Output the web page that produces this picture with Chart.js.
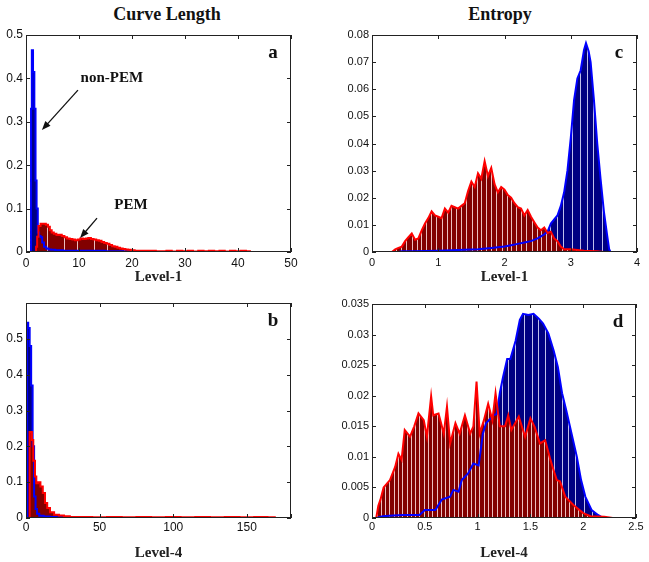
<!DOCTYPE html>
<html>
<head>
<meta charset="utf-8">
<script src="https://cdn.jsdelivr.net/npm/chart.js@4.4.1/dist/chart.umd.min.js"></script>
<style>
  body { margin: 0; background: #fff; }
  #wrap { position: relative; width: 649px; height: 562px; overflow: hidden; background: #fff; }
  #wrap canvas { position: absolute; }
  .head { position: absolute; top: 4px; width: 200px; text-align: center; line-height: 20px;
          font: bold 18px "Liberation Serif", "Times New Roman", serif; color: #111; }
</style>
</head>
<body>
<div id="wrap">
  <div class="head" style="left:67px">Curve Length</div>
  <div class="head" style="left:400px">Entropy</div>
  <canvas id="chartA" width="320" height="290" style="left:0;top:0"></canvas>
  <canvas id="chartC" width="329" height="290" style="left:320px;top:0"></canvas>
  <canvas id="chartB" width="320" height="272" style="left:0;top:290px"></canvas>
  <canvas id="chartD" width="329" height="272" style="left:320px;top:290px"></canvas>
</div>
<script>
// histogram outlines, [x, frequency]
const curveL1Pem = [[1.8,0],[2.0,0.012],[2.2,0.035],[2.5,0.06],[3.0,0.065],[3.5,0.065],[4.0,0.063],[4.3,0.058],[4.7,0.05],[5.0,0.045],
  [5.5,0.042],[6.0,0.039],[6.5,0.04],[7.0,0.037],[7.5,0.034],[8.0,0.031],[8.5,0.03],[9.0,0.029],[9.5,0.027],[10.0,0.029],
  [10.5,0.031],[11.0,0.03],[11.5,0.031],[12.0,0.032],[12.5,0.03],[13.0,0.029],[13.5,0.027],[14.0,0.026],[14.5,0.023],[15.0,0.021],
  [15.5,0.019],[16.0,0.016],[16.5,0.013],[17.0,0.012],[17.5,0.01],[18.0,0.008],[18.5,0.007],[19.0,0.006],[19.5,0.005],[20.0,0.004],
  [21,0.003],[22,0.003],[23,0.003],[24,0.003],[25,0.002],[26,0.002],[27,0.003],[28,0.001],[29,0.003],[30,0.002],
  [31,0.003],[32,0.001],[33,0.003],[34,0.002],[35,0.003],[36,0.002],[37,0.003],[38,0.001],[39,0.003],[40,0.002],
  [41,0.003],[42,0.002],[42.5,0]];
const curveL1NonPem = [[0.9,0],[1.0,0.33],[1.2,0.465],[1.45,0.415],[1.7,0.33],[1.9,0.165],[2.1,0.1],[2.35,0.045],[2.6,0.037],[2.9,0.034],
  [3.2,0.022],[3.6,0.012],[4.0,0.008],[4.5,0.006],[5,0.005],[6,0.004],[8,0.003],[10,0.003],[12,0.003],[14,0.003],
  [16,0.002],[18,0.002],[19.5,0.002],[20,0]];

const curveL4Pem = [[2.2,0],[2.7,0.24],[3.5,0.24],[4.5,0.218],[5.4,0.16],[6.8,0.116],[7.2,0.097],[9,0.1],[10.6,0.088],[12.2,0.07],
  [13.6,0.042],[15.2,0.028],[17.4,0.016],[20.8,0.009],[24,0.007],[27.6,0.005],[32,0.003],[40,0.003],[50,0.002],[60,0.003],
  [70,0.002],[80,0.003],[90,0.002],[100,0.003],[110,0.002],[120,0.003],[130,0.002],[140,0.003],[150,0.002],[160,0.003],
  [168,0.002],[170,0]];
const curveL4NonPem = [[0.5,0],[1,0.545],[2,0.53],[3,0.48],[4,0.37],[5,0.2],[6,0.06],[7,0.025],[8,0.012],[10,0.006],
  [14,0.004],[18,0.003],[22,0.002],[26,0.002],[30,0.001],[35,0]];

const entropyL1Pem = [[0.3,0],[0.35,0.001],[0.4,0.0015],[0.45,0.002],[0.5,0.004],[0.55,0.0055],[0.6,0.0068],[0.65,0.0045],[0.7,0.005],[0.75,0.008],
  [0.8,0.0105],[0.85,0.0125],[0.9,0.015],[0.95,0.0135],[1.0,0.013],[1.05,0.0125],[1.1,0.016],[1.15,0.0145],[1.2,0.017],[1.25,0.0165],
  [1.3,0.016],[1.35,0.017],[1.4,0.018],[1.45,0.0225],[1.5,0.026],[1.55,0.024],[1.6,0.029],[1.65,0.027],[1.7,0.0335],[1.75,0.028],
  [1.8,0.031],[1.85,0.025],[1.9,0.022],[1.95,0.024],[2.0,0.023],[2.05,0.021],[2.1,0.02],[2.15,0.018],[2.2,0.0165],[2.25,0.016],
  [2.3,0.0135],[2.35,0.0155],[2.4,0.013],[2.45,0.011],[2.5,0.009],[2.55,0.008],[2.6,0.009],[2.65,0.007],[2.7,0.0075],[2.75,0.005],
  [2.8,0.004],[2.85,0.002],[2.9,0.001],[3.0,0.001],[3.2,0.0005],[3.4,0.0003],[3.5,0]];
const entropyL1NonPem = [[0.4,0],[0.45,0.0003],[0.6,0.0003],[0.8,0.0004],[1.0,0.0005],[1.2,0.0006],[1.4,0.0008],[1.6,0.001],[1.8,0.0015],[2.0,0.002],
  [2.1,0.0025],[2.2,0.003],[2.3,0.0035],[2.4,0.004],[2.5,0.005],[2.6,0.0065],[2.65,0.0075],[2.7,0.0105],[2.75,0.012],[2.8,0.0135],
  [2.85,0.017],[2.9,0.022],[2.95,0.03],[3.0,0.042],[3.05,0.056],[3.1,0.064],[3.15,0.067],[3.2,0.0745],[3.23,0.077],[3.27,0.074],
  [3.3,0.07],[3.35,0.056],[3.4,0.04],[3.45,0.027],[3.5,0.015],[3.55,0.006],[3.58,0.001],[3.6,0]];

const entropyL4Pem = [[0.04,0],[0.06,0.002],[0.08,0.003],[0.11,0.005],[0.17,0.0062],[0.22,0.0084],[0.25,0.0105],[0.28,0.0095],[0.31,0.0144],[0.36,0.0133],
  [0.4,0.015],[0.44,0.0171],[0.49,0.016],[0.52,0.0133],[0.56,0.0199],[0.58,0.0168],[0.63,0.0171],[0.68,0.0138],[0.71,0.0182],[0.74,0.0122],
  [0.79,0.0155],[0.83,0.0138],[0.88,0.0168],[0.93,0.0138],[0.96,0.015],[0.99,0.0223],[1.02,0.0138],[1.06,0.016],[1.1,0.0187],[1.14,0.016],
  [1.17,0.0204],[1.21,0.015],[1.26,0.015],[1.29,0.0168],[1.32,0.0144],[1.39,0.0166],[1.45,0.0133],[1.5,0.0163],[1.54,0.0149],[1.59,0.0122],
  [1.64,0.0127],[1.69,0.0095],[1.72,0.0078],[1.75,0.0062],[1.78,0.006],[1.83,0.0035],[1.91,0.0021],[2.0,0.0008],[2.07,0.0003],[2.2,0.0002],
  [2.28,0]];
const entropyL4NonPem = [[0.04,0],[0.1,0.0003],[0.2,0.0004],[0.3,0.0005],[0.45,0.0005],[0.5,0.0013],[0.6,0.0013],[0.66,0.003],[0.74,0.0035],[0.77,0.0046],
  [0.82,0.0043],[0.85,0.0062],[0.91,0.0073],[0.96,0.0089],[1.01,0.0086],[1.05,0.0138],[1.08,0.0155],[1.15,0.0168],[1.18,0.017],[1.21,0.0204],
  [1.24,0.023],[1.28,0.026],[1.31,0.026],[1.36,0.029],[1.4,0.0324],[1.43,0.0334],[1.48,0.0332],[1.53,0.0334],[1.58,0.0326],[1.62,0.0318],
  [1.67,0.0302],[1.72,0.0274],[1.76,0.0247],[1.8,0.0204],[1.84,0.0176],[1.89,0.0138],[1.94,0.01],[1.98,0.0062],[2.02,0.0035],[2.08,0.0013],
  [2.14,0.0005],[2.19,0]];

// axis ranges
const xMaxes = { a: 50, b: 180, c: 4, d: 2.5 };
const xSteps = { a: 10, b: 50, c: 1, d: 0.5 };
const yMaxes = { a: 0.5, b: 0.6, c: 0.08, d: 0.035 };
const ySteps = { a: 0.1, b: 0.1, c: 0.01, d: 0.005 };

const SANS = '"Liberation Sans", Arial, sans-serif';
const SERIF = '"Liberation Serif", "Times New Roman", serif';

function toPoints(pairs) {
    return pairs.map(([x, y]) => ({ x, y }));
}

// dark fill with thin light stripes, like the bar gaps in the original
function stripes(ctx, base, light, marks) {
    if (!marks.length) return base;
    const w = 30;
    const c = document.createElement('canvas');
    c.width = w;
    c.height = 4;
    const g = c.getContext('2d');
    g.fillStyle = base;
    g.fillRect(0, 0, w, 4);
    g.fillStyle = light;
    marks.forEach(m => g.fillRect(m, 0, 1, 4));
    return ctx.createPattern(c, 'repeat');
}

function cleanNum(v) {
    return String(+v.toFixed(4));
}

const boxPlugin = {
    id: 'matlabBox',
    afterDraw(chart, args, opts) {
        const { ctx, chartArea: area, scales } = chart;
        ctx.save();
        ctx.strokeStyle = '#222';
        ctx.lineWidth = 1;
        ctx.beginPath();
        scales.x.ticks.forEach(t => {
            const px = Math.round(scales.x.getPixelForValue(t.value)) + 0.5;
            ctx.moveTo(px, area.bottom);
            ctx.lineTo(px, area.bottom - 4);
            ctx.moveTo(px, area.top);
            ctx.lineTo(px, area.top + 4);
        });
        scales.y.ticks.forEach(t => {
            const py = Math.round(scales.y.getPixelForValue(t.value)) + 0.5;
            ctx.moveTo(area.left, py);
            ctx.lineTo(area.left + 4, py);
            ctx.moveTo(area.right, py);
            ctx.lineTo(area.right - 4, py);
        });
        ctx.stroke();
        ctx.strokeRect(area.left + 0.5, area.top + 0.5, area.width - 1, area.height - 1);

        ctx.fillStyle = '#111';
        ctx.font = 'bold 19px ' + SERIF;
        ctx.textAlign = 'center';
        ctx.textBaseline = 'middle';
        ctx.fillText(opts.letter, area.right - 18, area.top + 18);

        (opts.notes || []).forEach(n => {
            ctx.font = 'bold 15px ' + SERIF;
            ctx.fillText(n.text, scales.x.getPixelForValue(n.at[0]), scales.y.getPixelForValue(n.at[1]));
            const fx = scales.x.getPixelForValue(n.from[0]);
            const fy = scales.y.getPixelForValue(n.from[1]);
            const tx = scales.x.getPixelForValue(n.to[0]);
            const ty = scales.y.getPixelForValue(n.to[1]);
            const ang = Math.atan2(ty - fy, tx - fx);
            ctx.strokeStyle = '#111';
            ctx.lineWidth = 1.3;
            ctx.beginPath();
            ctx.moveTo(fx, fy);
            ctx.lineTo(tx - 6 * Math.cos(ang), ty - 6 * Math.sin(ang));
            ctx.stroke();
            ctx.beginPath();
            ctx.moveTo(tx, ty);
            ctx.lineTo(tx - 9 * Math.cos(ang) + 3.5 * Math.sin(ang), ty - 9 * Math.sin(ang) - 3.5 * Math.cos(ang));
            ctx.lineTo(tx - 9 * Math.cos(ang) - 3.5 * Math.sin(ang), ty - 9 * Math.sin(ang) + 3.5 * Math.cos(ang));
            ctx.closePath();
            ctx.fill();
        });
        ctx.restore();
    }
};

function makeChart(id, key, cfg) {
    const ctx = document.getElementById(id).getContext('2d');
    const xMax = xMaxes[key];
    const yMax = yMaxes[key];
    return new Chart(ctx, {
        type: 'line',
        data: {
            datasets: [{
                label: 'PEM',
                data: toPoints(cfg.red),
                borderColor: '#ff0000',
                backgroundColor: stripes(ctx, '#820000', 'rgba(255,225,225,0.85)', cfg.redMarks),
                fill: 'origin'
            }, {
                label: 'non-PEM',
                data: toPoints(cfg.blue),
                borderColor: '#0000ff',
                backgroundColor: stripes(ctx, '#000082', 'rgba(225,225,255,0.85)', cfg.blueMarks),
                fill: 'origin'
            }]
        },
        options: {
            responsive: false,
            animation: false,
            devicePixelRatio: 1,
            elements: {
                line: { borderWidth: 2, tension: 0, stepped: cfg.stepped || false },
                point: { radius: 0 }
            },
            layout: { autoPadding: false, padding: cfg.padding },
            plugins: {
                legend: { display: false },
                tooltip: { enabled: false },
                filler: { drawTime: 'beforeDatasetsDraw' },
                matlabBox: { letter: cfg.letter, notes: cfg.notes }
            },
            scales: {
                x: {
                    type: 'linear',
                    min: 0,
                    max: xMax,
                    afterFit: s => { s.height = cfg.xHeight; },
                    grid: { display: false, drawTicks: false },
                    border: { display: false },
                    ticks: {
                        stepSize: xSteps[key],
                        padding: cfg.xPad,
                        maxRotation: 0,
                        color: '#111',
                        font: { family: SANS, size: cfg.tickSize },
                        callback: v => (Math.abs(v / xSteps[key] - Math.round(v / xSteps[key])) > 1e-6 ? '' : cleanNum(v))
                    },
                    title: {
                        display: true,
                        text: cfg.xTitle,
                        color: '#222',
                        font: { family: SERIF, size: 15, weight: 'bold' },
                        padding: { top: 0, bottom: cfg.titlePad }
                    }
                },
                y: {
                    min: 0,
                    max: yMax,
                    afterFit: s => { s.width = cfg.yWidth; },
                    grid: { display: false, drawTicks: false },
                    border: { display: false },
                    ticks: {
                        stepSize: ySteps[key],
                        padding: cfg.yPad,
                        color: '#111',
                        font: { family: SANS, size: cfg.tickSize },
                        callback: v => (cfg.hideTop && v > yMax - ySteps[key] / 2 ? '' : cleanNum(v))
                    }
                }
            }
        },
        plugins: [boxPlugin]
    });
}

makeChart('chartA', 'a', {
    red: curveL1Pem, blue: curveL1NonPem, letter: 'a', stepped: 'middle',
    redMarks: [4, 17], blueMarks: [],
    padding: { left: 0, top: 35, right: 29, bottom: 0 },
    xHeight: 38, yWidth: 26, xPad: 4, yPad: 3, titlePad: 4, tickSize: 12,
    xTitle: 'Level-1',
    notes: [
        { text: 'non-PEM', at: [16.2, 0.40], from: [9.8, 0.373], to: [3.0, 0.281] },
        { text: 'PEM', at: [19.8, 0.108], from: [13.4, 0.078], to: [10.2, 0.032] }
    ]
});

makeChart('chartC', 'c', {
    red: entropyL1Pem, blue: entropyL1NonPem, letter: 'c',
    redMarks: [2, 7, 11, 16, 21, 26], blueMarks: [3, 12, 20, 27],
    padding: { left: 0, top: 35, right: 12, bottom: 0 },
    xHeight: 38, yWidth: 52, xPad: 4, yPad: 3, titlePad: 4, tickSize: 11,
    xTitle: 'Level-1'
});

makeChart('chartB', 'b', {
    red: curveL4Pem, blue: curveL4NonPem, letter: 'b', hideTop: true, stepped: 'middle',
    redMarks: [], blueMarks: [],
    padding: { left: 0, top: 13, right: 29, bottom: 0 },
    xHeight: 44, yWidth: 26, xPad: 2, yPad: 3, titlePad: 0, tickSize: 12,
    xTitle: 'Level-4'
});

makeChart('chartD', 'd', {
    red: entropyL4Pem, blue: entropyL4NonPem, letter: 'd',
    redMarks: [1, 5, 9, 14, 18, 22, 27], blueMarks: [2, 8, 15, 24],
    padding: { left: 0, top: 14, right: 13, bottom: 0 },
    xHeight: 44, yWidth: 52, xPad: 2, yPad: 3, titlePad: 0, tickSize: 11,
    xTitle: 'Level-4'
});
</script>
</body>
</html>
